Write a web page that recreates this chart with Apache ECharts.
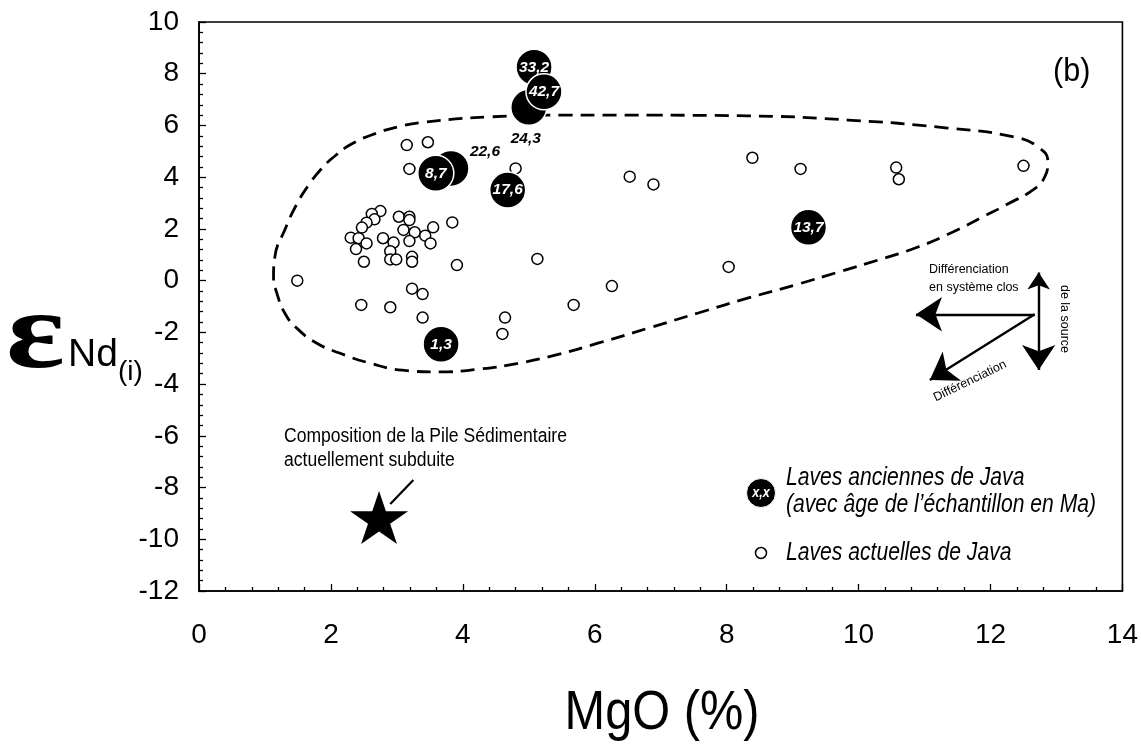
<!DOCTYPE html>
<html><head><meta charset="utf-8">
<script src="https://cdn.jsdelivr.net/npm/echarts@6/dist/echarts.min.js"></script>
<style>html,body{margin:0;padding:0;background:#fff}#c{width:1141px;height:751px}</style>
</head><body><div id="c"></div>
<script>
// ---- data ----
const xTickMin = 0, xTickMax = 14, xTickStep = 2;
const yTickMin = -12, yTickMax = 10, yTickStep = 2;

// Laves anciennes de Java (age in Ma)
const oldAges  = ['24,3', '33,2', '42,7', '22,6', '8,7', '17,6', '13,7', '1,3'];
const oldMgO   = [5.00, 5.08, 5.23, 3.82, 3.59, 4.68, 9.24, 3.67];
const oldEpsNd = [6.70, 8.25, 7.30, 4.34, 4.15, 3.50, 2.06, -2.46];

// Laves actuelles de Java
const modMgO = [3.15, 3.47, 3.19, 4.80,
  2.75, 2.62, 2.66, 2.54, 2.47, 2.30, 2.42, 2.54, 2.38, 2.50, 2.79, 2.95, 2.90, 2.90, 2.99,
  3.03, 3.19, 3.19, 3.10, 3.27, 3.19, 3.43, 3.55, 3.51, 3.23, 3.23, 3.84, 3.91,
  1.49, 2.46, 2.90, 3.23, 3.39, 3.39, 4.64, 4.60,
  6.53, 6.89, 8.39, 9.12, 10.57, 10.61, 12.50, 5.13, 8.03, 6.26, 5.68];
const modEpsNd = [5.24, 5.35, 4.32, 4.34,
  2.69, 2.58, 2.37, 2.24, 2.05, 1.66, 1.64, 1.44, 1.22, 0.73, 1.64, 1.47, 1.14, 0.82, 0.82,
  2.47, 2.47, 2.34, 1.96, 1.87, 1.53, 1.74, 2.06, 1.44, 0.92, 0.73, 2.25, 0.60,
  0.00, -0.94, -1.03, -0.31, -0.52, -1.43, -1.43, -2.06,
  4.02, 3.72, 4.75, 4.32, 4.37, 3.92, 4.44, 0.84, 0.53, -0.21, -0.94];

// Composition de la Pile Sedimentaire actuellement subduite
const sedMgO = [2.73];
const sedEpsNd = [-9.16];

// Envelope (dashed closed field)
const envMgO = [6.82, 8.33, 9.84, 11.35, 12.37, 12.72, 12.87, 12.82, 12.66, 12.26, 11.88, 11.43, 10.90, 10.30, 9.69, 9.09, 8.33, 7.57, 6.82, 6.06, 5.46, 4.85, 4.25, 3.64, 3.08, 2.59, 2.13, 1.78, 1.48, 1.30, 1.18, 1.13, 1.15, 1.30, 1.50, 1.68, 1.84, 2.06, 2.34, 2.69, 3.04, 3.39, 4.40, 5.46, 6.82];
const envEpsNd = [6.40, 6.37, 6.21, 5.90, 5.55, 5.17, 4.59, 4.00, 3.54, 2.96, 2.46, 1.88, 1.30, 0.80, 0.33, -0.13, -0.67, -1.25, -1.83, -2.41, -2.84, -3.19, -3.42, -3.53, -3.46, -3.19, -2.80, -2.41, -1.83, -1.25, -0.48, 0.14, 0.91, 1.96, 3.04, 3.76, 4.28, 4.82, 5.32, 5.70, 5.96, 6.12, 6.33, 6.40, 6.40];

// Arrow diagram (in data units)
const arrowOneHead = [[[12.67, -1.30], [10.87, -1.30]], [[12.67, -1.30], [11.08, -3.84]]];
const arrowTwoHead = [[[12.73, 0.31], [12.73, -3.46]]];
const pointerLine  = [[[3.25, -7.71], [2.90, -8.64]]];

// ---- fonts ----
const SANS = '"Liberation Sans", Arial, Helvetica, sans-serif';
const SERIF = '"Liberation Serif", "DejaVu Serif", serif';

const STAR = 'path://M50,0L61.23,34.55L97.55,34.55L68.16,55.9L79.39,90.45L50,69.1L20.61,90.45L31.84,55.9L2.45,34.55L38.77,34.55Z';

// ---- build options ----
const oldData = oldAges.map((a, i) => {
  const d = {name: a, value: [oldMgO[i], oldEpsNd[i]]};
  if (a === '22,6') d.label = {color: '#000', offset: [34, -17]};
  if (a === '24,3') d.label = {color: '#000', offset: [-3, 31]};
  return d;
});
const modData = modMgO.map((x, i) => [x, modEpsNd[i]]);
const envData = envMgO.map((x, i) => [x, envEpsNd[i]]);
const toLines = arr => arr.map(s => ({coords: s}));

function txt(x, y, text, font, opts) {
  const o = Object.assign({align: 'left', valign: 'middle', sx: 1, rot: 0, fill: '#000'}, opts || {});
  return {type: 'text', x: x, y: y, scaleX: o.sx, rotation: o.rot, z: 10,
    style: {text: text, fill: o.fill, font: font, align: o.align, verticalAlign: o.valign}};
}

const chart = echarts.init(document.getElementById('c'), null, {renderer: 'canvas'});
const axisCommon = {
  type: 'value',
  axisLine: {show: true, onZero: false, lineStyle: {color: '#000', width: 1.6}},
  axisTick: {show: true, inside: true, length: 7, lineStyle: {color: '#000', width: 1.3}},
  minorTick: {show: true, splitNumber: 5, length: 4, lineStyle: {color: '#000', width: 1.3}},
  splitLine: {show: false},
  axisLabel: {color: '#000', fontFamily: SANS, fontSize: 28}
};
chart.setOption({
  animation: false,
  backgroundColor: '#fff',
  grid: {left: 199, top: 22, right: 16, bottom: 160, show: true, borderColor: '#000', borderWidth: 1.6, backgroundColor: 'transparent'},
  xAxis: Object.assign({}, axisCommon, {min: xTickMin, max: xTickMax, interval: xTickStep,
    axisLabel: Object.assign({}, axisCommon.axisLabel, {margin: 30})}),
  yAxis: Object.assign({}, axisCommon, {min: yTickMin, max: yTickMax, interval: yTickStep,
    axisLabel: Object.assign({}, axisCommon.axisLabel, {margin: 20})}),
  series: [
    {type: 'line', data: envData, smooth: 0.5, symbol: 'none', z: 1,
     lineStyle: {color: '#000', width: 2.8, type: [14, 8]}},
    {type: 'scatter', data: modData, symbol: 'circle', symbolSize: 11, z: 3,
     itemStyle: {color: '#fff', borderColor: '#000', borderWidth: 1.5, opacity: 1}},
    {type: 'scatter', data: oldData, symbol: 'circle', symbolSize: 36, z: 4,
     itemStyle: {color: '#000', borderColor: '#fff', borderWidth: 1.5, opacity: 1},
     label: {show: true, position: 'inside', formatter: p => p.name, color: '#fff',
       fontFamily: SANS, fontStyle: 'italic', fontWeight: 'bold', fontSize: 15.5}},
    {type: 'scatter', data: sedMgO.map((x, i) => [x, sedEpsNd[i]]), symbol: STAR, symbolSize: [58, 53], z: 4,
     itemStyle: {color: '#000', opacity: 1}},
    {type: 'lines', coordinateSystem: 'cartesian2d', data: toLines(arrowOneHead), z: 5,
     symbol: ['none', 'arrow'], symbolSize: [19, 26], lineStyle: {color: '#000', width: 2.4, opacity: 1}},
    {type: 'lines', coordinateSystem: 'cartesian2d', data: toLines(arrowTwoHead), z: 5,
     symbol: ['arrow', 'arrow'], symbolSize: [17, 25], lineStyle: {color: '#000', width: 2.4, opacity: 1}},
    {type: 'lines', coordinateSystem: 'cartesian2d', data: toLines(pointerLine), z: 5,
     symbol: ['none', 'none'], lineStyle: {color: '#000', width: 2.2, opacity: 1}}
  ],
  graphic: [
    txt(1053, 72, '(b)', '34px ' + SANS, {sx: 0.9}),
    txt(6, 339, 'ε', 'bold 110px ' + SERIF, {sx: 1.25}),
    txt(68, 355, 'Nd', '39px ' + SANS),
    txt(118, 372, '(i)', '28px ' + SANS),
    txt(662, 714, 'MgO (%)', '56px ' + SANS, {align: 'center', sx: 0.87}),
    txt(284, 437, 'Composition de la Pile Sédimentaire', '19.5px ' + SANS, {sx: 0.9}),
    txt(284, 461, 'actuellement subduite', '19.5px ' + SANS, {sx: 0.9}),
    txt(929, 270, 'Différenciation', '12.5px ' + SANS),
    txt(929, 288, 'en système clos', '12.5px ' + SANS),
    txt(1064, 319, 'de la source', '12.5px ' + SANS, {align: 'center', rot: -Math.PI / 2}),
    txt(970, 381, 'Différenciation', '12.5px ' + SANS, {align: 'center', rot: 0.45}),
    {type: 'circle', shape: {cx: 761, cy: 493, r: 14.5}, style: {fill: '#000', stroke: '#fff', lineWidth: 1}, z: 10},
    txt(761, 493, 'x,x', 'italic bold 14px ' + SANS, {align: 'center', fill: '#fff', sx: 0.9}),
    txt(786, 478, 'Laves anciennes de Java', 'italic 25px ' + SANS, {sx: 0.845}),
    txt(786, 505, '(avec âge de l’échantillon en Ma)', 'italic 25px ' + SANS, {sx: 0.845}),
    {type: 'circle', shape: {cx: 761, cy: 553, r: 5.5}, style: {fill: '#fff', stroke: '#000', lineWidth: 1.5}, z: 10},
    txt(786, 553, 'Laves actuelles de Java', 'italic 25px ' + SANS, {sx: 0.845})
  ]
});
</script>
</body></html>
